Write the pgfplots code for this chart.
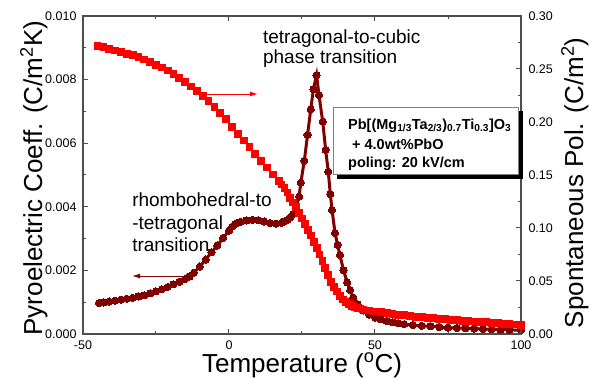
\documentclass[border=0pt]{standalone}
\usepackage{fontspec}
\setmainfont{Liberation Sans}
\usepackage{pgfplots}
\pgfplotsset{compat=1.18}
\usetikzlibrary{arrows.meta}
\definecolor{pyro}{RGB}{128,0,0}
\definecolor{polc}{RGB}{255,0,0}
\definecolor{axg}{RGB}{77,77,77}

\pgfplotstableread{
T P
-44.5 0.00097
-43 0.00099
-41 0.00102
-39 0.00105
-37 0.00108
-35 0.00111
-33 0.00114
-31 0.00118
-29 0.00122
-27 0.00128
-25 0.00134
-23 0.00141
-21 0.00148
-19 0.00156
-17 0.00164
-15 0.00173
-13.5 0.00181
-12 0.00193
-10 0.00212
-8 0.00234
-6 0.00257
-4 0.00278
-2 0.00302
0 0.00325
1 0.00337
2 0.00345
3 0.00350
4 0.00353
6 0.00357
8 0.00359
10 0.00358
12 0.00354
14 0.00349
16 0.00347
18 0.00350
19 0.00354
20 0.00359
21 0.00366
22 0.00378
23 0.00400
24 0.00432
24.6 0.00476
25.8 0.00545
26.9 0.00626
28 0.00707
28.9 0.00770
30.0 0.00814
30.8 0.00752
32.1 0.00668
33.1 0.00579
34.0 0.00510
34.7 0.00440
35.3 0.00390
36.3 0.00318
37.2 0.00280
38.0 0.00248
39.2 0.00201
40.5 0.00162
41.5 0.00138
42.6 0.00114
44 0.00093
46 0.00074
48 0.00061
50 0.00052
52 0.00046
54 0.00041
56 0.00037
58 0.00034
60 0.00031
63 0.00028
66 0.00026
69 0.00024
72 0.00022
75 0.00020
78 0.00019
81 0.00018
84 0.00017
87 0.00016
90 0.00015
93 0.00014
96 0.00013
100 0.00012
}\pyrotable

\pgfplotstableread{
T S
-45 0.272
-43 0.2705
-41 0.269
-39 0.2675
-37 0.266
-35 0.2645
-33 0.263
-31 0.261
-29 0.259
-27 0.2565
-25 0.254
-23 0.2515
-21 0.2485
-19 0.245
-17 0.2415
-15 0.2375
-13 0.2335
-11 0.229
-9 0.2245
-7 0.2195
-5 0.2145
-3 0.2085
-1 0.2025
1 0.1955
3 0.189
5 0.1825
7 0.1765
9 0.170
11 0.1635
13 0.157
15 0.1505
17 0.1445
18 0.141
19 0.138
20 0.1335
21 0.1285
22 0.124
23 0.1195
24 0.1145
25 0.109
26 0.1035
27 0.098
28 0.093
29 0.087
30 0.081
31 0.075
32 0.069
33 0.062
34 0.0555
35 0.049
36 0.044
37 0.040
38 0.036
39 0.0325
40 0.030
41 0.028
42 0.0266
43 0.0257
44 0.0248
45 0.0240
46 0.0232
48 0.0222
50 0.0213
52 0.0205
54 0.0197
56 0.019
58 0.0183
60 0.0176
62 0.017
64 0.0164
66 0.0158
68 0.0153
70 0.0148
72 0.0143
74 0.0138
76 0.0134
78 0.013
80 0.0126
82 0.0122
84 0.0118
86 0.0114
88 0.011
90 0.0106
92 0.0102
94 0.0098
96 0.0094
98 0.009
100 0.0086
}\poltable

\begin{document}
\begin{tikzpicture}
\pgfplotsset{
  common/.style={
    scale only axis, width=438pt, height=318pt,
    xmin=-50, xmax=100,
    tick align=inside,
    major tick length=5pt, minor tick length=3pt,
    every tick/.style={axg, line width=1pt},
    axis line style={axg, line width=1.5pt},
    ticklabel style={font=\fontsize{12.5}{14}\selectfont},
    /pgf/number format/assume math mode=true,
  }
}
\begin{axis}[common, name=ax1,
  ymin=0, ymax=0.010,
  xtick={-50,0,50,100}, xticklabels={-50,0,50,100},
  minor x tick num=1,
  ytick={0,0.002,0.004,0.006,0.008,0.010},
  yticklabels={0.000,0.002,0.004,0.006,0.008,0.010},
  minor y tick num=1,
  ytick pos=left,
  xtick pos=both,
  scaled y ticks=false,
  xticklabel style={yshift=-3pt},
  yticklabel style={xshift=-3pt},
  xlabel={Temperature (\textsuperscript{o}C)},
  ylabel={Pyroelectric Coeff. (C/m\textsuperscript{2}K)},
  every axis x label/.style={at={(axis description cs:0.5,-0.1195)}, anchor=base, font=\fontsize{26}{30}\selectfont},
  every axis y label/.style={at={(axis description cs:-0.0936,0.49)}, anchor=base, rotate=90, font=\fontsize{26}{30}\selectfont},
]
\addplot[pyro, line width=3pt, mark=*, mark size=3.6pt,
  mark options={solid, fill=pyro, draw=pyro, line width=0pt}] table[x=T, y=P] {\pyrotable};
\end{axis}
\begin{axis}[common, name=ax2,
  ymin=0, ymax=0.30,
  axis x line=none,
  axis y line*=right,
  ytick={0,0.05,0.10,0.15,0.20,0.25,0.30},
  yticklabels={0.00,0.05,0.10,0.15,0.20,0.25,0.30},
  minor y tick num=1,
  yticklabel style={xshift=4pt},
  scaled y ticks=false,
  ylabel={Spontaneous Pol. (C/m\textsuperscript{2})},
  every axis y label/.style={at={(axis description cs:1.1416,0.475)}, anchor=base, rotate=90, font=\fontsize{26}{30}\selectfont},
  clip=false,
]
\addplot[black, line width=0.6pt, mark=square*, mark size=3.4pt,
  mark options={solid, fill=polc, draw=polc, line width=0pt}] table[x=T, y=S] {\poltable};

% arrows
\draw[polc, line width=1pt, -{Latex[length=8pt,width=5pt]}] (axis cs:-9.9,0.2264) -- (axis cs:9.9,0.2264);
\draw[pyro, line width=1pt, -{Latex[length=8pt,width=5pt]}] (axis cs:-13.4,0.0547) -- (axis cs:-33.2,0.0547);

% annotations
\node[anchor=base west, inner sep=0pt, font=\fontsize{19}{21}\selectfont] at (axis cs:11.6,0.2745) {tetragonal-to-cubic};
\node[anchor=base west, inner sep=0pt, font=\fontsize{19}{21}\selectfont] at (axis cs:11.6,0.2553) {phase transition};
\node[anchor=base west, inner sep=0pt, font=\fontsize{19}{21}\selectfont] at (axis cs:-33.2,0.1200) {rhombohedral-to};
\node[anchor=base west, inner sep=0pt, font=\fontsize{19}{21}\selectfont] at (axis cs:-33.2,0.0988) {-tetragonal};
\node[anchor=base west, inner sep=0pt, font=\fontsize{19}{21}\selectfont] at (axis cs:-33.2,0.0776) {transition};

% legend box with shadow
\fill[black] ([xshift=4.5pt,yshift=-4.5pt]axis cs:35.6,0.2142) rectangle ([xshift=4.5pt,yshift=-4.5pt]axis cs:99.0,0.1509);
\filldraw[fill=white, draw=gray, line width=0.8pt] (axis cs:35.6,0.2142) rectangle (axis cs:99.0,0.1509);
\node[anchor=base west, inner sep=0pt, font=\fontsize{14.5}{17}\selectfont\bfseries] at (axis cs:40.75,0.1933)
  {Pb[(Mg\textsubscript{1/3}Ta\textsubscript{2/3})\textsubscript{0.7}Ti\textsubscript{0.3}]O\textsubscript{3}};
\node[anchor=base west, inner sep=0pt, font=\fontsize{14.5}{17}\selectfont\bfseries] at (axis cs:42.1,0.1745)
  {+ 4.0wt\%PbO};
\node[anchor=base west, inner sep=0pt, font=\fontsize{14.5}{17}\selectfont\bfseries] at (axis cs:40.75,0.1575)
  {poling: 20 kV/cm};
\end{axis}
\pgfresetboundingbox
\path ([xshift=-83pt,yshift=-44pt]ax1.south west) rectangle ([xshift=69pt,yshift=16pt]ax1.north east);
\end{tikzpicture}
\end{document}
